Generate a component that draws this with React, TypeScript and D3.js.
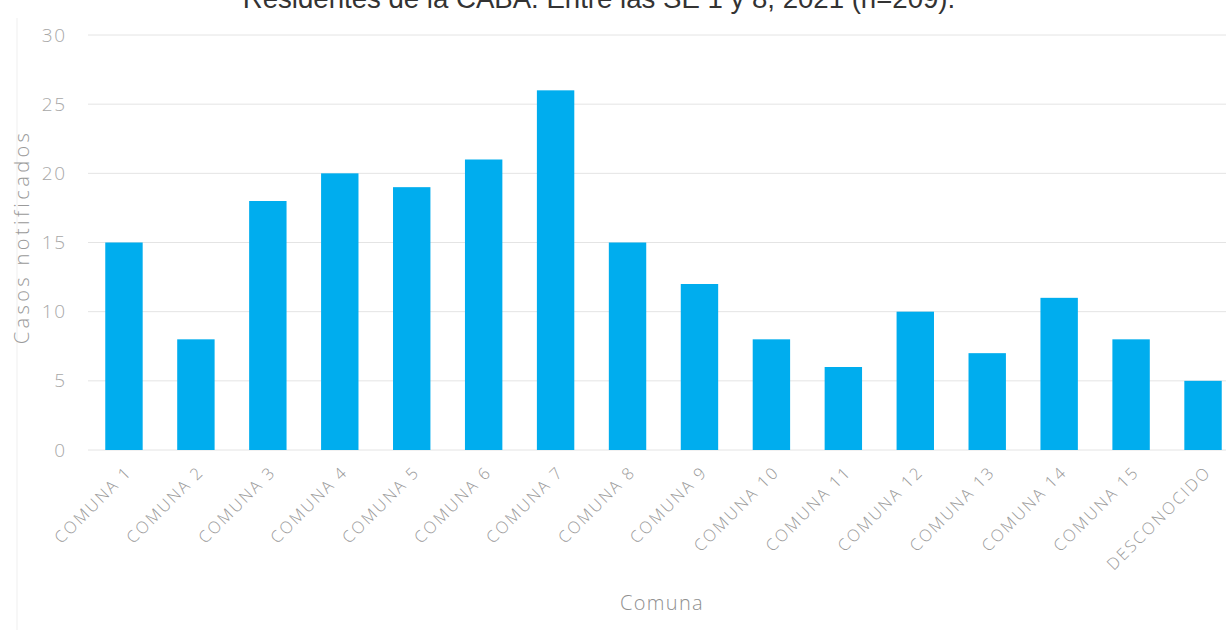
import React from "react";
import * as d3 from "d3";

const categories = [
  "COMUNA 1", "COMUNA 2", "COMUNA 3", "COMUNA 4", "COMUNA 5", "COMUNA 6",
  "COMUNA 7", "COMUNA 8", "COMUNA 9", "COMUNA 10", "COMUNA 11", "COMUNA 12",
  "COMUNA 13", "COMUNA 14", "COMUNA 15", "DESCONOCIDO",
];
const casos = [15, 8, 18, 20, 19, 21, 26, 15, 12, 8, 6, 10, 7, 11, 8, 5];
const yTicks = [0, 5, 10, 15, 20, 25, 30];
const titleText = "Residentes de la CABA. Entre las SE 1 y 8, 2021 (n=209).";
const yTitle = "Casos notificados";
const xTitle = "Comuna";

const W = 1226;
const H = 630;

export default function App() {
  const x = d3.scaleBand<string>().domain(categories).range([88, 1239]).paddingInner(0.48).paddingOuter(0.24);
  const y = d3.scaleLinear().domain([0, 30]).range([450, 35]);
  const font = "'Open Sans', Lato, sans-serif";
  const labelColor = "#9a9a9a";
  return (
    <svg width={W} height={H} style={{ position: "absolute", left: 0, top: 0, background: "#fff" }}>
      <line x1={17} x2={17} y1={18} y2={H} stroke="#efefef" strokeWidth={1} />
      <text x={599} y={8} textAnchor="middle" fontFamily="'Liberation Sans', Arial, sans-serif" fontSize={27.6} fill="#333">
        {titleText}
      </text>
      {yTicks.map((t) => (
        <g key={t}>
          <line x1={88} x2={W} y1={y(t)} y2={y(t)} stroke="#e4e4e4" strokeWidth={1} />
          <text x={67} y={y(t)} dy="0.35em" textAnchor="end" fontFamily={font} fontSize={19} fontWeight={300} letterSpacing={1.8} fill="#a8a8a8">
            {t}
          </text>
        </g>
      ))}
      {categories.map((c, i) => (
        <rect key={c} x={x(c)!} y={y(casos[i])} width={x.bandwidth()} height={y(0) - y(casos[i])} fill="#00adee" />
      ))}
      {categories.map((c) => {
        const cx = x(c)! + x.bandwidth() / 2 + 9;
        const cy = 473;
        return (
          <text key={c} x={cx} y={cy} textAnchor="end" transform={`rotate(-45 ${cx} ${cy})`} fontFamily={font} fontSize={16.5} fontWeight={300} letterSpacing={2.1} fill={labelColor}>
            {c}
          </text>
        );
      })}
      <text x={22} y={237} textAnchor="middle" transform="rotate(-90 22 237)" dy="0.35em" fontFamily={font} fontSize={20} fontWeight={300} letterSpacing={3.4} fill={labelColor}>
        {yTitle}
      </text>
      <text x={662} y={610} textAnchor="middle" fontFamily={font} fontSize={20} fontWeight={300} letterSpacing={1.3} fill="#8f8f8f">
        {xTitle}
      </text>
    </svg>
  );
}
